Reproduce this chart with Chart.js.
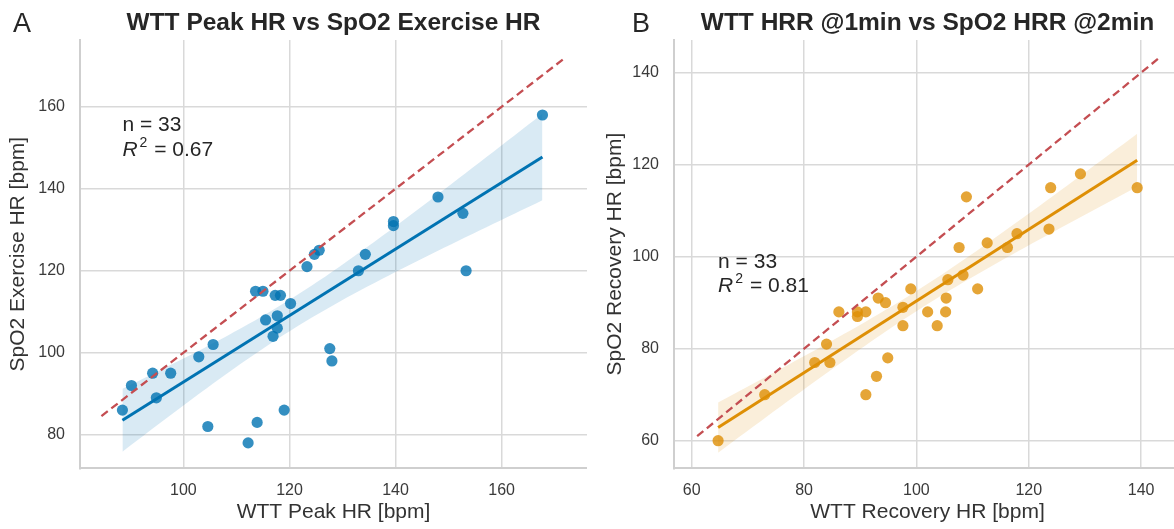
<!DOCTYPE html>
<html><head><meta charset="utf-8">
<script src="https://cdn.jsdelivr.net/npm/chart.js@4/dist/chart.umd.min.js"></script>
<style>
html,body{margin:0;padding:0;background:#fff;overflow:hidden;width:1174px;height:529px;}
#wrap{position:relative;width:1174px;height:529px;overflow:hidden;background:#fff;}
.pane{position:absolute;top:0;height:529px;width:587px;}
</style></head><body>
<div id="wrap">
<div class="pane" style="left:0px"><canvas id="chartA" width="587" height="529"></canvas></div>
<div class="pane" style="left:594px"><canvas id="chartB" width="587" height="529"></canvas></div>
</div>
<script>
// ---------- data ----------
const peakWTT  = [167.7,148.0,152.7,153.3,139.6,139.6,134.3,133.0,125.6,124.7,123.3,113.6,115.0,117.3,118.3,120.2,115.5,117.7,117.7,116.9,127.6,128.0,105.6,102.9,94.2,97.6,90.2,94.9,88.5,104.6,113.9,112.2,119.0];
const peakSpO2 = [158,138,134,120,132,131,124,120,125,124,121,115,115,114,114,112,108,109,106,104,101,98,102,99,95,95,92,89,86,82,83,78,86];
const recWTT   = [64.7,73.0,81.9,84.6,84.0,86.2,89.5,89.5,91.0,93.2,94.5,97.6,97.6,99.0,94.9,92.9,91.0,139.3,129.2,123.9,123.6,108.9,117.9,116.2,112.6,107.6,108.3,105.6,110.9,105.3,105.2,102.0,103.7];
const recSpO2  = [60,70,77,77,81,88,88,87,88,91,90,89,85,93,78,74,70,115,118,115,106,113,105,102,103,102,96,95,93,91,88,88,85];

const xTicksA = [100,120,140,160];
const yTicksA = [80,100,120,140,160];
const xTicksB = [60,80,100,120,140];
const yTicksB = [60,80,100,120,140];

const titles  = ['WTT Peak HR vs SpO2 Exercise HR','WTT HRR @1min vs SpO2 HRR @2min'];
const letters = ['A','B'];
const xTitles = ['WTT Peak HR [bpm]','WTT Recovery HR [bpm]'];
const yTitles = ['SpO2 Exercise HR [bpm]','SpO2 Recovery HR [bpm]'];
const r2Labels = ['0.67','0.81'];

// ---------- helpers ----------
const FONT = '"Liberation Sans", Arial, Helvetica, sans-serif';

function fit(xs, ys){
  const n = xs.length;
  const mx = xs.reduce((a,b)=>a+b,0)/n, my = ys.reduce((a,b)=>a+b,0)/n;
  let sxx=0, sxy=0;
  for(let i=0;i<n;i++){ sxx += (xs[i]-mx)**2; sxy += (xs[i]-mx)*(ys[i]-my); }
  const b = sxy/sxx, a = my - b*mx;
  let sse=0; for(let i=0;i<n;i++){ sse += (ys[i]-(a+b*xs[i]))**2; }
  const s = Math.sqrt(sse/(n-2));
  return {a,b,s,n,mx,sxx};
}

function build(xs, ys, color, fillColor, pointColor){
  const f = fit(xs, ys);
  const xmin = Math.min(...xs), xmax = Math.max(...xs);
  const t = 2.0395;
  const upper=[], lower=[], reg=[];
  const N = 60;
  for(let i=0;i<=N;i++){
    const x = xmin + (xmax-xmin)*i/N;
    const yh = f.a + f.b*x;
    const se = f.s*Math.sqrt(1/f.n + (x-f.mx)**2/f.sxx);
    upper.push({x, y: yh + t*se});
    lower.push({x, y: yh - t*se});
  }
  reg.push({x:xmin, y:f.a+f.b*xmin}); reg.push({x:xmax, y:f.a+f.b*xmax});
  const rng = xmax - xmin;
  const lo = xmin - 0.05*rng, hi = xmax + 0.05*rng;
  const ident = [{x:lo,y:lo},{x:hi,y:hi}];
  const pts = xs.map((x,i)=>({x, y: ys[i]}));
  return [
    {type:'scatter', data:pts, backgroundColor:pointColor, borderWidth:0, pointRadius:5.6, order:5},
    {type:'line', data:upper, borderWidth:0, pointRadius:0, backgroundColor:fillColor, fill:'+1', order:4, tension:0},
    {type:'line', data:lower, borderWidth:0, pointRadius:0, backgroundColor:fillColor, fill:false, order:4, tension:0},
    {type:'line', data:reg, borderColor:color, borderWidth:3, pointRadius:0, fill:false, order:3},
    {type:'line', data:ident, borderColor:'#c44e52', borderWidth:2.3, borderDash:[8,4.5], pointRadius:0, fill:false, order:1}
  ];
}

const decor = {
  id:'decor',
  afterDraw(chart, args, o){
    const {ctx, chartArea:ca, scales} = chart;
    ctx.save();
    ctx.fillStyle = '#262626';
    ctx.font = 'bold ' + o.titleSize + 'px ' + FONT;
    ctx.textAlign = 'center'; ctx.textBaseline = 'alphabetic';
    ctx.fillText(o.title, (ca.left+ca.right)/2, 30);
    ctx.font = '27px ' + FONT;
    ctx.textAlign = 'left';
    ctx.fillText(o.letter, o.letterX, 31.5);
    // annotation
    const x = scales.x.getPixelForValue(o.annX);
    const y = scales.y.getPixelForValue(o.annY);
    ctx.font = '21px ' + FONT;
    ctx.fillStyle = '#262626';
    ctx.fillText(o.nText, x, y);
    const y2 = y + o.gap;
    ctx.font = 'italic 21px ' + FONT;
    ctx.fillText('R', x, y2);
    let w = ctx.measureText('R').width;
    ctx.font = '14px ' + FONT;
    ctx.fillText('2', x + w + 2, y2 - 9);
    const w2 = ctx.measureText('2').width;
    ctx.font = '21px ' + FONT;
    ctx.fillText(' = ' + o.r2, x + w + 2 + w2 + 1, y2);
    ctx.restore();
  }
};

function makeChart(id, datasets, xr, yr, xt, yt, xTitle, yTitle, yTitlePad, deco){
  const tickFont = {family: FONT, size: 16};
  return new Chart(document.getElementById(id), {
    data: {datasets},
    options: {
      responsive:false, animation:false, events:[],
      layout:{autoPadding:false, padding:{top:40, left:0, right:0, bottom:0}},
      plugins:{legend:{display:false}, tooltip:{enabled:false}, decor: deco},
      scales:{
        x:{type:'linear', position:'bottom', min:xr[0], max:xr[1],
          afterBuildTicks: s => { s.ticks = xt.map(v=>({value:v})); },
          afterFit: s => { s.height = 60.7; },
          grid:{color:'#d9d9d9', lineWidth:1.5, drawTicks:false},
          border:{color:'#cfcfcf', width:2},
          ticks:{font:tickFont, color:'#3a3a3a', padding:13, maxRotation:0},
          title:{display:true, text:xTitle, font:{family:FONT, size:21}, color:'#333333', padding:{top:0,bottom:4}}
        },
        y:{type:'linear', position:'left', min:yr[0], max:yr[1],
          afterBuildTicks: s => { s.ticks = yt.map(v=>({value:v})); },
          afterFit: s => { s.width = 80; },
          grid:{color:'#d9d9d9', lineWidth:1.5, drawTicks:false},
          border:{color:'#cfcfcf', width:2},
          ticks:{font:tickFont, color:'#3a3a3a', padding:15},
          title:{display:true, text:yTitle, font:{family:FONT, size:21}, color:'#333333', padding:{top:yTitlePad,bottom:0}}
        }
      }
    },
    plugins:[decor]
  });
}

makeChart('chartA',
  build(peakWTT, peakSpO2, '#0173b2', 'rgba(1,115,178,0.15)', 'rgba(1,115,178,0.8)'),
  [80.5,176.1],[71.8,176.3], xTicksA, yTicksA, xTitles[0], yTitles[0], 6,
  {title:titles[0], titleSize:24.5, letter:letters[0], letterX:13, annX:Math.min(...peakWTT), annY:154.2, gap:25,
   nText:'n = '+peakWTT.length, r2:r2Labels[0]});

makeChart('chartB',
  build(recWTT, recSpO2, '#de8f05', 'rgba(222,143,5,0.15)', 'rgba(222,143,5,0.8)'),
  [56.85,147.1],[54.0,147.1], xTicksB, yTicksB, xTitles[1], yTitles[1], 8.5,
  {title:titles[1], titleSize:24.5, letter:letters[1], letterX:38, annX:Math.min(...recWTT), annY:97.5, gap:24,
   nText:'n = '+recWTT.length, r2:r2Labels[1]});
</script>
</body></html>
